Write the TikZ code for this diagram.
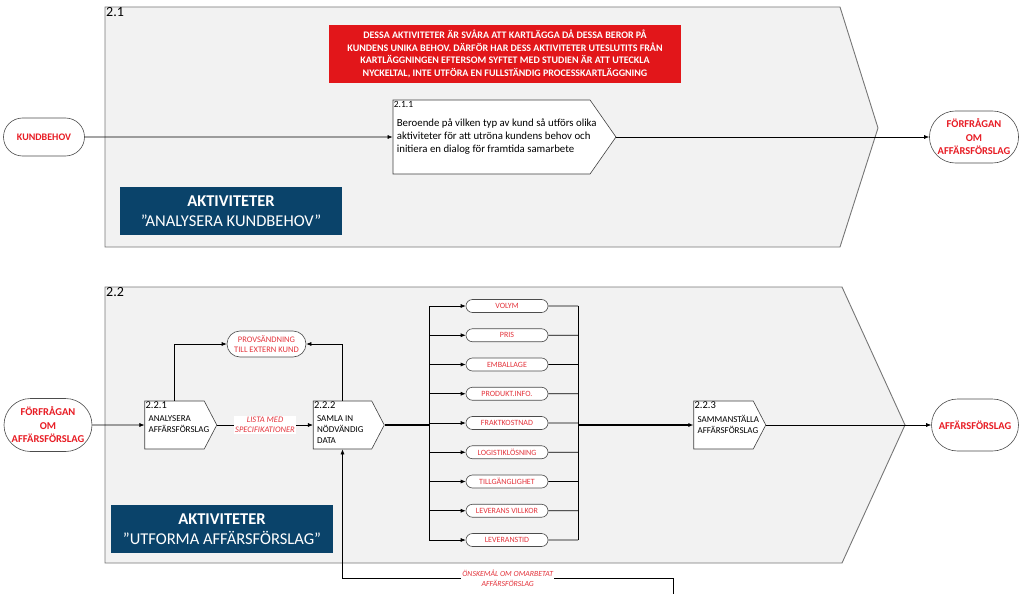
\documentclass[tikz,border=0pt]{standalone}
\usepackage{fontspec}
\setmainfont{Carlito}
\usepackage{tikz}
\usetikzlibrary{arrows.meta}
\usetikzlibrary{shapes.misc,shapes.symbols}
\usetikzlibrary{positioning}
\definecolor{panelgray}{RGB}{242,242,242}
\definecolor{edgegray}{RGB}{118,118,118}
\definecolor{boxred}{RGB}{226,22,26}
\definecolor{txtred}{RGB}{232,28,36}
\definecolor{softred}{RGB}{228,52,60}
\definecolor{navy}{RGB}{10,67,106}
\tikzset{
    panel/.style={
        draw=edgegray, fill=panelgray, line width=0.9pt
    },
    proc/.style={
        shape=signal, signal to=east, draw=black!75, fill=white,
        inner sep=0pt, line width=0.6pt
    },
    terminal/.style={
        shape=rounded rectangle, draw=black!70, fill=white,
        inner sep=1pt, line width=0.6pt, align=center
    },
    smallterm/.style={
        terminal, minimum width=84pt, minimum height=13pt,
        font=\fontsize{8}{9}\selectfont, text=softred
    },
    titlebox/.style={
        fill=navy, text=white, align=center,
        minimum width=222pt, minimum height=48pt,
        font=\fontsize{16.5}{20}\selectfont
    },
    arr/.style={
        -{Latex[length=5pt,width=4pt]}, line width=0.6pt
    },
    flowlbl/.style={
        fill=white, text=softred, align=center, inner sep=1pt,
        font=\fontsize{8.5}{10.5}\selectfont\itshape
    },
    nr/.style={
        anchor=north west, inner sep=1pt
    },
    proctxt/.style={
        anchor=north west, align=left, inner sep=1pt,
        font=\fontsize{9}{11}\selectfont
    }
}

\begin{document}
\begin{tikzpicture}[x=1pt,y=-1pt]
\useasboundingbox (0,0) rectangle (1023,594);

% paneler
\draw[panel] (105,7) -- (840,7) -- (878,128) -- (840,247) -- (105,247) -- cycle;
\draw[panel] (105,287) -- (842,287) -- (905,425) -- (842,563) -- (105,563) -- cycle;
\node[nr, font=\fontsize{14}{16}\selectfont] (n21) at (105,6) {2.1};
\node[nr, font=\fontsize{14}{16}\selectfont] (n22) at (105,286) {2.2};

% 2.1
\node[fill=boxred, text=white, align=center, minimum width=352pt, minimum height=58pt,
      font=\fontsize{10}{12.5}\selectfont\bfseries] (note) at (505,54)
    {DESSA AKTIVITETER ÄR SVÅRA ATT KARTLÄGGA DÅ DESSA BEROR PÅ\\
     KUNDENS UNIKA BEHOV. DÄRFÖR HAR DESS AKTIVITETER UTESLUTITS FRÅN\\
     KARTLÄGGNINGEN EFTERSOM SYFTET MED STUDIEN ÄR ATT UTECKLA\\
     NYCKELTAL, INTE UTFÖRA EN FULLSTÄNDIG PROCESSKARTLÄGGNING};

\node[terminal, minimum width=83pt, minimum height=38pt, text=txtred,
      font=\fontsize{10}{12}\selectfont\bfseries] (kund) at (44,137) {KUNDBEHOV};
\node[proc, signal pointer angle=110, minimum width=223pt, minimum height=74pt] (p211) at (491.5,137) {};
\node[nr, font=\fontsize{9.5}{10}\selectfont] (p211n) at (p211.west |- p211.north) {2.1.1};
\node[anchor=west, align=left, inner sep=0pt, font=\fontsize{10.8}{13}\selectfont] (p211t) at ([xshift=4pt]p211.west)
    {Beroende på vilken typ av kund så utförs olika\\
     aktiviteter för att utröna kundens behov och\\
     initiera en dialog för framtida samarbete};
\node[terminal, minimum width=88pt, minimum height=52pt, text=txtred,
      font=\fontsize{10.5}{13.5}\selectfont\bfseries] (forf1) at (974,137) {FÖRFRÅGAN\\OM\\AFFÄRSFÖRSLAG};
\node[titlebox] (akt1) at (231,211) {\textbf{AKTIVITETER}\\”ANALYSERA KUNDBEHOV”};

\draw[arr] (kund) -- (p211);
\draw[arr] (p211) -- (forf1);

% 2.2
\node[terminal, minimum width=90pt, minimum height=53pt, text=txtred,
      font=\fontsize{10.5}{13.5}\selectfont\bfseries] (forf2) at (48,425) {FÖRFRÅGAN\\OM\\AFFÄRSFÖRSLAG};
\node[proc, signal pointer angle=125, minimum width=72pt, minimum height=48pt] (p221) at (174.5,425) {};
\node[proc, signal pointer angle=125, minimum width=71pt, minimum height=48pt] (p222) at (342.5,425) {};
\node[proc, signal pointer angle=125, minimum width=72pt, minimum height=48pt] (p223) at (723.5,425) {};
\node[nr, font=\fontsize{10.5}{11}\selectfont] (p221n) at (p221.west |- p221.north) {2.2.1};
\node[nr, font=\fontsize{10.5}{11}\selectfont] (p222n) at (p222.west |- p222.north) {2.2.2};
\node[nr, font=\fontsize{10.5}{11}\selectfont] (p223n) at (p223.west |- p223.north) {2.2.3};
\node[proctxt] (p221t) at ([shift={(3,4)}]p221n.south west) {ANALYSERA\\AFFÄRSFÖRSLAG};
\node[proctxt] (p222t) at ([shift={(3,4)}]p222n.south west) {SAMLA IN\\NÖDVÄNDIG\\DATA};
\node[proctxt] (p223t) at ([shift={(3,4)}]p223n.south west) {SAMMANSTÄLLA\\AFFÄRSFÖRSLAG};
\node[terminal, minimum width=81pt, minimum height=26pt, text=softred,
      font=\fontsize{8.5}{10.5}\selectfont] (prov) at (266.5,344) {PROVSÄNDNING\\TILL EXTERN KUND};
\node[terminal, minimum width=89pt, minimum height=52pt, text=txtred,
      font=\fontsize{10.5}{12}\selectfont\bfseries] (affar) at (975,425) {AFFÄRSFÖRSLAG};
\node[titlebox] (akt2) at (222,529) {\textbf{AKTIVITETER}\\”UTFORMA AFFÄRSFÖRSLAG”};

% datanoder
\foreach \i/\txt in {1/VOLYM,2/PRIS,3/EMBALLAGE,4/PRODUKT.INFO.,5/FRAKTKOSTNAD,
                     6/LOGISTIKLÖSNING,7/TILLGÄNGLIGHET,8/LEVERANS VILLKOR,9/LEVERANSTID}
    \node[smallterm] (t\i) at (507,{306+29.25*(\i-1)}) {\txt};
\coordinate (busL) at (429,425);
\coordinate (busR) at (578,425);
\coordinate (fbin) at (673,594);

% kopplingar
\draw[arr] (forf2) -- (p221);
\draw[arr] (p221) -- node[flowlbl] {LISTA MED\\SPECIFIKATIONER} (p222);
\draw[arr] (p221.north) |- (prov);
\draw[arr] (p222.north) |- (prov);
\draw[line width=1.2pt] (p222) -- (busL);
\draw[line width=0.6pt] (busL |- t1) -- (busL |- t9);
\draw[line width=0.6pt] (busR |- t1) -- (busR |- t9);
\foreach \i in {1,...,9} {
    \draw[arr] (busL |- t\i) -- (t\i);
    \draw[line width=0.6pt] (t\i) -- (busR |- t\i);
}
\draw[arr, line width=1.2pt] (busR) -- (p223);
\draw[arr] (p223) -- (affar);
\draw[arr] (fbin) -- ++(0,-16) -| node[pos=0.25, flowlbl, font=\fontsize{7.8}{10}\selectfont\itshape] {ÖNSKEMÅL OM OMARBETAT\\AFFÄRSFÖRSLAG} (p222.south);
\end{tikzpicture}
\end{document}
